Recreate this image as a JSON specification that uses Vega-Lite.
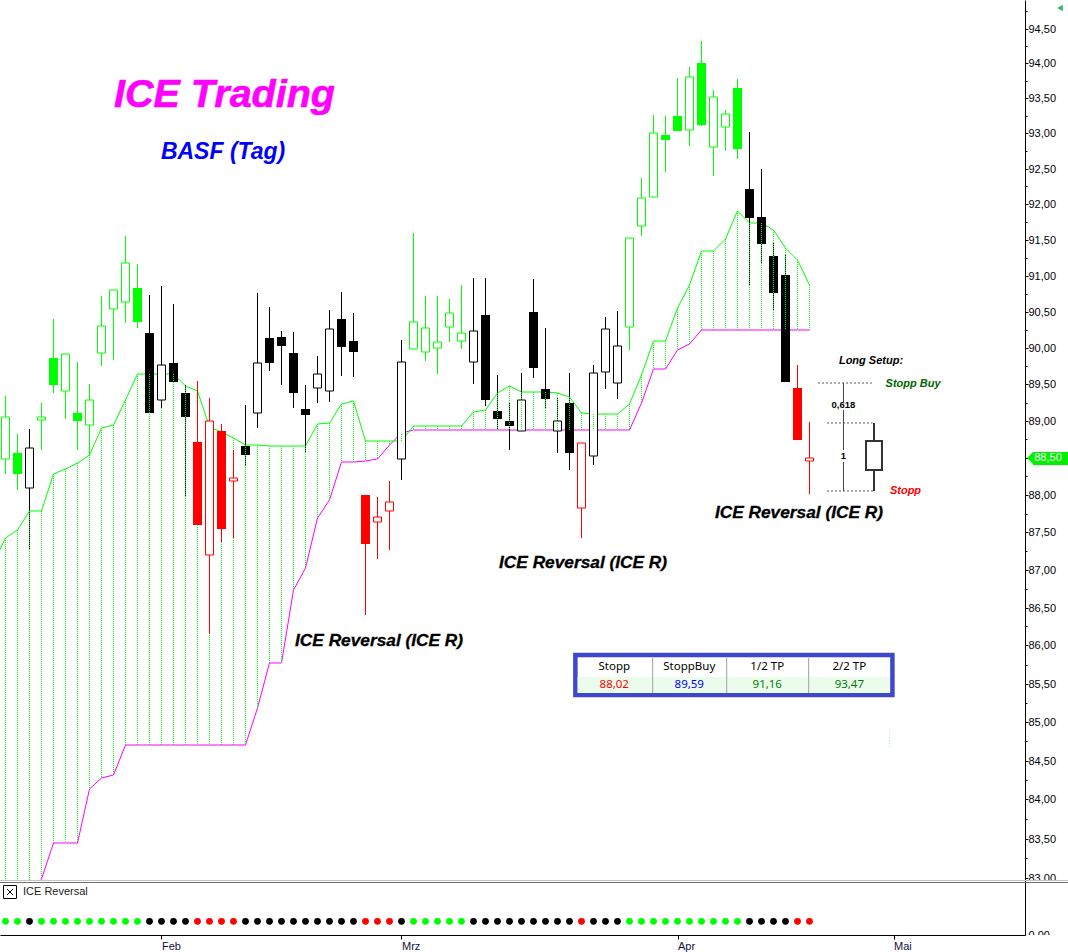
{
"$schema":"https://vega.github.io/schema/vega-lite/v6.json",
"padding":0,
"spacing":0,
"bounds":"flush",
"background":"white",
"config":{"view":{"stroke":null},"concat":{"spacing":0},"axis":{"grid":false,"title":null,"labelFont":"Liberation Sans","labelFontSize":11,"labelColor":"#000000","domainColor":"#000000","tickColor":"#000000"}},
"datasets":{
"candles":[
{"t":0,"open":88.48,"high":89.34,"low":88.28,"close":89.05,"signal":"long"},
{"t":1,"open":88.57,"high":88.83,"low":88.07,"close":88.28,"signal":"long"},
{"t":2,"open":88.10,"high":88.89,"low":87.28,"close":88.63,"signal":"neutral"},
{"t":3,"open":89.01,"high":89.25,"low":88.60,"close":89.05,"signal":"long"},
{"t":4,"open":89.86,"high":90.40,"low":89.38,"close":89.49,"signal":"long"},
{"t":5,"open":89.41,"high":89.91,"low":89.03,"close":89.91,"signal":"long"},
{"t":6,"open":89.11,"high":89.81,"low":88.61,"close":89.00,"signal":"long"},
{"t":7,"open":88.94,"high":89.51,"low":88.54,"close":89.28,"signal":"long"},
{"t":8,"open":89.93,"high":90.72,"low":89.75,"close":90.30,"signal":"long"},
{"t":9,"open":90.54,"high":90.80,"low":89.83,"close":90.80,"signal":"long"},
{"t":10,"open":90.64,"high":91.55,"low":90.34,"close":91.17,"signal":"long"},
{"t":11,"open":90.83,"high":91.16,"low":90.27,"close":90.36,"signal":"long"},
{"t":12,"open":90.21,"high":90.73,"low":89.11,"close":89.11,"signal":"neutral"},
{"t":13,"open":89.29,"high":90.86,"low":89.18,"close":89.76,"signal":"neutral"},
{"t":14,"open":89.79,"high":90.61,"low":89.53,"close":89.53,"signal":"neutral"},
{"t":15,"open":89.38,"high":89.49,"low":87.99,"close":89.06,"signal":"neutral"},
{"t":16,"open":88.72,"high":89.55,"low":87.60,"close":87.60,"signal":"short"},
{"t":17,"open":87.19,"high":89.31,"low":86.15,"close":89.00,"signal":"short"},
{"t":18,"open":88.87,"high":88.96,"low":87.37,"close":87.54,"signal":"short"},
{"t":19,"open":88.19,"high":88.60,"low":87.43,"close":88.23,"signal":"short"},
{"t":20,"open":88.66,"high":89.22,"low":88.41,"close":88.54,"signal":"neutral"},
{"t":21,"open":89.11,"high":90.76,"low":88.91,"close":89.79,"signal":"neutral"},
{"t":22,"open":90.14,"high":90.56,"low":89.68,"close":89.79,"signal":"neutral"},
{"t":23,"open":90.15,"high":90.23,"low":89.49,"close":90.03,"signal":"neutral"},
{"t":24,"open":89.93,"high":90.22,"low":89.18,"close":89.38,"signal":"neutral"},
{"t":25,"open":89.16,"high":89.49,"low":88.58,"close":89.08,"signal":"neutral"},
{"t":26,"open":89.45,"high":89.89,"low":89.24,"close":89.64,"signal":"neutral"},
{"t":27,"open":89.41,"high":90.52,"low":89.26,"close":90.26,"signal":"neutral"},
{"t":28,"open":90.40,"high":90.77,"low":89.62,"close":90.01,"signal":"neutral"},
{"t":29,"open":90.10,"high":90.48,"low":89.60,"close":89.94,"signal":"neutral"},
{"t":30,"open":88.00,"high":88.00,"low":86.40,"close":87.34,"signal":"short"},
{"t":31,"open":87.64,"high":87.97,"low":87.14,"close":87.70,"signal":"short"},
{"t":32,"open":87.79,"high":88.19,"low":87.26,"close":87.90,"signal":"short"},
{"t":33,"open":88.48,"high":90.11,"low":88.20,"close":89.80,"signal":"neutral"},
{"t":34,"open":89.99,"high":91.59,"low":89.99,"close":90.35,"signal":"long"},
{"t":35,"open":89.95,"high":90.72,"low":89.82,"close":90.27,"signal":"long"},
{"t":36,"open":90.00,"high":90.72,"low":89.64,"close":90.08,"signal":"long"},
{"t":37,"open":90.29,"high":90.68,"low":90.08,"close":90.48,"signal":"long"},
{"t":38,"open":90.09,"high":90.87,"low":89.99,"close":90.20,"signal":"long"},
{"t":39,"open":89.80,"high":90.97,"low":89.51,"close":90.23,"signal":"neutral"},
{"t":40,"open":90.45,"high":90.97,"low":89.21,"close":89.29,"signal":"neutral"},
{"t":41,"open":89.14,"high":89.63,"low":88.88,"close":89.03,"signal":"neutral"},
{"t":42,"open":89.00,"high":89.24,"low":88.60,"close":88.93,"signal":"neutral"},
{"t":43,"open":88.86,"high":89.66,"low":88.86,"close":89.28,"signal":"neutral"},
{"t":44,"open":90.50,"high":90.95,"low":89.59,"close":89.72,"signal":"neutral"},
{"t":45,"open":89.44,"high":90.28,"low":89.18,"close":89.30,"signal":"neutral"},
{"t":46,"open":88.86,"high":89.33,"low":88.56,"close":89.00,"signal":"neutral"},
{"t":47,"open":89.25,"high":89.66,"low":88.34,"close":88.57,"signal":"neutral"},
{"t":48,"open":87.83,"high":88.70,"low":87.42,"close":88.70,"signal":"short"},
{"t":49,"open":88.53,"high":89.77,"low":88.41,"close":89.65,"signal":"neutral"},
{"t":50,"open":89.67,"high":90.43,"low":89.44,"close":90.26,"signal":"neutral"},
{"t":51,"open":89.52,"high":90.51,"low":89.30,"close":90.02,"signal":"neutral"},
{"t":52,"open":90.29,"high":91.53,"low":89.97,"close":91.53,"signal":"long"},
{"t":53,"open":91.69,"high":92.37,"low":91.55,"close":92.09,"signal":"long"},
{"t":54,"open":92.10,"high":93.26,"low":92.10,"close":93.00,"signal":"long"},
{"t":55,"open":92.98,"high":93.25,"low":92.45,"close":92.91,"signal":"long"},
{"t":56,"open":93.25,"high":93.79,"low":93.03,"close":93.03,"signal":"long"},
{"t":57,"open":93.04,"high":93.95,"low":92.82,"close":93.81,"signal":"long"},
{"t":58,"open":94.00,"high":94.32,"low":93.10,"close":93.12,"signal":"long"},
{"t":59,"open":92.80,"high":93.62,"low":92.39,"close":93.51,"signal":"long"},
{"t":60,"open":93.09,"high":93.33,"low":92.75,"close":93.27,"signal":"long"},
{"t":61,"open":93.65,"high":93.78,"low":92.64,"close":92.78,"signal":"long"},
{"t":62,"open":92.21,"high":93.02,"low":90.87,"close":91.80,"signal":"neutral"},
{"t":63,"open":91.82,"high":92.49,"low":91.16,"close":91.44,"signal":"neutral"},
{"t":64,"open":91.27,"high":91.47,"low":90.51,"close":90.76,"signal":"neutral"},
{"t":65,"open":91.01,"high":91.29,"low":89.53,"close":89.53,"signal":"neutral"},
{"t":66,"open":89.45,"high":89.77,"low":88.74,"close":88.74,"signal":"short"},
{"t":67,"open":88.46,"high":88.99,"low":88.01,"close":88.50,"signal":"short"}
],
"cloud":[
{"t":-1,"upper":87.09,"lower":82.5},{"t":0,"upper":87.43,"lower":82.6},{"t":1,"upper":87.53,"lower":82.7},{"t":2,"upper":87.79,"lower":82.8},{"t":3,"upper":87.79,"lower":82.99},
{"t":4,"upper":88.28,"lower":83.44},{"t":5,"upper":88.35,"lower":83.44},{"t":6,"upper":88.43,"lower":83.44},{"t":7,"upper":88.54,"lower":84.13},{"t":8,"upper":88.91,"lower":84.28},
{"t":9,"upper":88.95,"lower":84.31},{"t":10,"upper":89.29,"lower":84.70},{"t":11,"upper":89.64,"lower":84.70},{"t":12,"upper":89.64,"lower":84.70},{"t":13,"upper":89.64,"lower":84.70},
{"t":14,"upper":89.64,"lower":84.70},{"t":15,"upper":89.48,"lower":84.70},{"t":16,"upper":89.41,"lower":84.70},{"t":17,"upper":88.92,"lower":84.70},{"t":18,"upper":88.85,"lower":84.70},
{"t":19,"upper":88.77,"lower":84.70},{"t":20,"upper":88.67,"lower":84.70},{"t":21,"upper":88.67,"lower":85.18},{"t":22,"upper":88.66,"lower":85.77},{"t":23,"upper":88.66,"lower":85.77},
{"t":24,"upper":88.66,"lower":86.73},{"t":25,"upper":88.66,"lower":87.03},{"t":26,"upper":88.96,"lower":87.69},{"t":27,"upper":88.97,"lower":87.93},{"t":28,"upper":89.23,"lower":88.44},
{"t":29,"upper":89.27,"lower":88.44},{"t":30,"upper":88.73,"lower":88.46},{"t":31,"upper":88.73,"lower":88.48},{"t":32,"upper":88.73,"lower":88.68},{"t":33,"upper":88.73,"lower":88.84},
{"t":34,"upper":88.93,"lower":88.88},{"t":35,"upper":88.93,"lower":88.88},{"t":36,"upper":88.93,"lower":88.88},{"t":37,"upper":88.93,"lower":88.88},{"t":38,"upper":88.93,"lower":88.88},
{"t":39,"upper":89.12,"lower":88.88},{"t":40,"upper":89.15,"lower":88.88},{"t":41,"upper":89.38,"lower":88.88},{"t":42,"upper":89.48,"lower":88.88},{"t":43,"upper":89.39,"lower":88.88},
{"t":44,"upper":89.39,"lower":88.88},{"t":45,"upper":89.39,"lower":88.88},{"t":46,"upper":89.38,"lower":88.88},{"t":47,"upper":89.33,"lower":88.88},{"t":48,"upper":89.11,"lower":88.88},
{"t":49,"upper":89.09,"lower":88.88},{"t":50,"upper":89.09,"lower":88.88},{"t":51,"upper":89.09,"lower":88.88},{"t":52,"upper":89.23,"lower":88.88},{"t":53,"upper":89.63,"lower":89.25},
{"t":54,"upper":90.09,"lower":89.71},{"t":55,"upper":90.09,"lower":89.71},{"t":56,"upper":90.55,"lower":89.97},{"t":57,"upper":90.87,"lower":90.06},{"t":58,"upper":91.34,"lower":90.24},
{"t":59,"upper":91.34,"lower":90.24},{"t":60,"upper":91.51,"lower":90.24},{"t":61,"upper":91.90,"lower":90.24},{"t":62,"upper":91.74,"lower":90.24},{"t":63,"upper":91.74,"lower":90.24},
{"t":64,"upper":91.63,"lower":90.24},{"t":65,"upper":91.38,"lower":90.24},{"t":66,"upper":91.22,"lower":90.24},{"t":67,"upper":90.87,"lower":90.24}
]
},
"vconcat":[
{
"width":1025,"height":881,
"layer":[
{"data":{"name":"cloud"},"mark":{"type":"rule","color":"#00ff00","strokeWidth":1,"strokeDash":[1,1],"clip":true},
 "encoding":{"x":{"field":"t","type":"quantitative","scale":{"domain":[-0.45833,84.95833],"nice":false,"zero":false,"padding":0},"axis":null},
 "y":{"field":"upper","type":"quantitative","scale":{"type":"log","domain":[82.96,94.913],"nice":false,"zero":false,"round":true,"padding":0},
  "axis":{"orient":"right","title":null,"values":[83,83.25,83.5,83.75,84,84.25,84.5,84.75,85,85.25,85.5,85.75,86,86.25,86.5,86.75,87,87.25,87.5,87.75,88,88.25,88.5,88.75,89,89.25,89.5,89.75,90,90.25,90.5,90.75,91,91.25,91.5,91.75,92,92.25,92.5,92.75,93,93.25,93.5,93.75,94,94.25,94.5,94.75],
  "labelExpr":"(round(datum.value*2)==datum.value*2 && datum.value!=88.5)?replace(format(datum.value,'.2f'),'.',','):''","labelOverlap":false,"labelFlush":false,"labelPadding":0,"tickSize":{"expr":"round(datum.value*2)==datum.value*2?3:2"}}},
 "y2":{"field":"lower"}}},
{"data":{"name":"cloud"},"mark":{"type":"line","color":"#ff00ff","strokeWidth":1,"clip":true},"encoding":{"x":{"field":"t","type":"quantitative"},"y":{"field":"lower","type":"quantitative"}}},
{"data":{"name":"cloud"},"mark":{"type":"line","color":"#00ff00","strokeWidth":1,"clip":true},"encoding":{"x":{"field":"t","type":"quantitative"},"y":{"field":"upper","type":"quantitative"}}},
{"data":{"name":"candles"},"mark":{"type":"rule","strokeWidth":1},"encoding":{"x":{"field":"t","type":"quantitative"},"y":{"field":"high","type":"quantitative"},"y2":{"field":"low"},
 "color":{"field":"signal","type":"nominal","scale":{"domain":["long","neutral","short"],"range":["#00ff00","#000000","#ff0000"]},"legend":null}}},
{"data":{"name":"candles"},"transform":[{"filter":"datum.close>datum.open"}],"mark":{"type":"bar","orient":"vertical","size":8,"fill":"white","strokeWidth":1},"encoding":{"x":{"field":"t","type":"quantitative"},"y":{"field":"open","type":"quantitative"},"y2":{"field":"close"},
 "stroke":{"field":"signal","type":"nominal","scale":{"domain":["long","neutral","short"],"range":["#00ff00","#000000","#ff0000"]},"legend":null}}},
{"data":{"name":"candles"},"transform":[{"filter":"datum.close<datum.open"}],"mark":{"type":"bar","orient":"vertical","size":9},"encoding":{"x":{"field":"t","type":"quantitative"},"y":{"field":"open","type":"quantitative"},"y2":{"field":"close"},
 "fill":{"field":"signal","type":"nominal","scale":{"domain":["long","neutral","short"],"range":["#00ff00","#000000","#ff0000"]},"legend":null}}},
{"data":{"name":"cloud"},"transform":[{"lookup":"t","from":{"data":{"name":"candles"},"key":"t","fields":["signal"]}},{"filter":"datum.signal=='neutral' && datum.t!=13"}],"mark":{"type":"rule","color":"#00ff00","strokeWidth":1,"strokeDash":[1,1],"clip":true},"encoding":{"x":{"field":"t","type":"quantitative"},"y":{"field":"upper","type":"quantitative"},"y2":{"field":"lower"}}},

{"data":{"values":[{"t":73.67,"p1":84.88,"p2":84.66}]},"mark":{"type":"rule","color":"#a8e8c8","strokeWidth":1,"strokeDash":[1,2]},"encoding":{"x":{"field":"t","type":"quantitative"},"y":{"field":"p1","type":"quantitative"},"y2":{"field":"p2"}}},

{"data":{"values":[{"t1":67.71,"t2":72.2,"p":89.52},{"t1":68.46,"t2":72.25,"p":88.97},{"t1":68.46,"t2":72.3,"p":88.05}]},"mark":{"type":"rule","color":"#555555","strokeWidth":1,"strokeDash":[2,2]},"encoding":{"x":{"field":"t1","type":"quantitative"},"x2":{"field":"t2"},"y":{"field":"p","type":"quantitative"}}},
{"data":{"values":[{"t":69.83,"p1":89.52,"p2":89.26},{"t":69.83,"p1":89.15,"p2":88.61},{"t":69.83,"p1":88.45,"p2":88.05}]},"mark":{"type":"rule","color":"#444444","strokeWidth":1},"encoding":{"x":{"field":"t","type":"quantitative"},"y":{"field":"p1","type":"quantitative"},"y2":{"field":"p2"}}},
{"data":{"values":[{"t":72.375,"p1":88.97,"p2":88.05}]},"mark":{"type":"rule","color":"#333333","strokeWidth":2},"encoding":{"x":{"field":"t","type":"quantitative"},"y":{"field":"p1","type":"quantitative"},"y2":{"field":"p2"}}},
{"data":{"values":[{"t1":71.71,"t2":73.04,"p1":88.73,"p2":88.33}]},"mark":{"type":"rect","fill":"white","stroke":"#333333","strokeWidth":2},"encoding":{"x":{"field":"t1","type":"quantitative"},"x2":{"field":"t2"},"y":{"field":"p1","type":"quantitative"},"y2":{"field":"p2"}}},

{"data":{"values":[{"t1":47.49,"t2":73.91,"p1":85.87,"p2":85.35}]},"mark":{"type":"rect","fill":"white","stroke":"#3f48cc","strokeWidth":4.5},"encoding":{"x":{"field":"t1","type":"quantitative"},"x2":{"field":"t2"},"y":{"field":"p1","type":"quantitative"},"y2":{"field":"p2"}}},
{"data":{"values":[{"t1":47.68,"t2":73.71,"p1":85.58,"p2":85.38}]},"mark":{"type":"rect","fill":"#ecfcec"},"encoding":{"x":{"field":"t1","type":"quantitative"},"x2":{"field":"t2"},"y":{"field":"p1","type":"quantitative"},"y2":{"field":"p2"}}},
{"data":{"values":[{"t":53.93,"p1":85.84,"p2":85.38},{"t":60.1,"p1":85.84,"p2":85.38},{"t":66.93,"p1":85.84,"p2":85.38}]},"mark":{"type":"rule","color":"#a0a0a0","strokeWidth":1},"encoding":{"x":{"field":"t","type":"quantitative"},"y":{"field":"p1","type":"quantitative"},"y2":{"field":"p2"}}},
{"data":{"values":[{"t":50.73,"p":85.72,"label":"Stopp"},{"t":56.98,"p":85.72,"label":"StoppBuy"},{"t":63.48,"p":85.72,"label":"1/2 TP"},{"t":70.32,"p":85.72,"label":"2/2 TP"}]},
 "mark":{"type":"text","font":"Noto Sans","fontSize":11.5,"align":"center","baseline":"middle","color":"#000000"},"encoding":{"x":{"field":"t","type":"quantitative"},"y":{"field":"p","type":"quantitative"},"text":{"field":"label"}}},
{"data":{"values":[{"t":50.73,"p":85.48,"label":"88,02"}]},"mark":{"type":"text","font":"Noto Sans","fontSize":11.5,"align":"center","baseline":"middle","color":"#ff0000"},"encoding":{"x":{"field":"t","type":"quantitative"},"y":{"field":"p","type":"quantitative"},"text":{"field":"label"}}},
{"data":{"values":[{"t":56.98,"p":85.48,"label":"89,59"}]},"mark":{"type":"text","font":"Noto Sans","fontSize":11.5,"align":"center","baseline":"middle","color":"#0000ff"},"encoding":{"x":{"field":"t","type":"quantitative"},"y":{"field":"p","type":"quantitative"},"text":{"field":"label"}}},
{"data":{"values":[{"t":63.48,"p":85.48,"label":"91,16"},{"t":70.32,"p":85.48,"label":"93,47"}]},"mark":{"type":"text","font":"Noto Sans","fontSize":11.5,"align":"center","baseline":"middle","color":"#008000"},"encoding":{"x":{"field":"t","type":"quantitative"},"y":{"field":"p","type":"quantitative"},"text":{"field":"label"}}},

{"data":{"values":[{"t":18.25,"p":93.56,"label":"ICE Trading"}]},"mark":{"type":"text","font":"Liberation Sans","fontSize":39.5,"fontWeight":"bold","fontStyle":"italic","color":"#ff00ff","stroke":"#ff00ff","strokeWidth":0.6,"align":"center","baseline":"middle","dy":1},"encoding":{"x":{"field":"t","type":"quantitative"},"y":{"field":"p","type":"quantitative"},"text":{"field":"label"}}},
{"data":{"values":[{"t":18.13,"p":92.75,"label":"BASF (Tag)"}]},"mark":{"type":"text","font":"Liberation Sans","fontSize":23,"fontWeight":"bold","fontStyle":"italic","color":"#0000ff","align":"center","baseline":"middle","dy":1},"encoding":{"x":{"field":"t","type":"quantitative"},"y":{"field":"p","type":"quantitative"},"text":{"field":"label"}}},
{"data":{"values":[{"t":31.13,"p":86.07,"label":"ICE Reversal (ICE R)"},{"t":48.13,"p":87.10,"label":"ICE Reversal (ICE R)"},{"t":66.12,"p":87.77,"label":"ICE Reversal (ICE R)"}]},"mark":{"type":"text","font":"Liberation Sans","fontSize":17.3,"fontWeight":"bold","fontStyle":"italic","color":"#000000","stroke":"#000000","strokeWidth":0.3,"align":"center","baseline":"middle","dy":1},"encoding":{"x":{"field":"t","type":"quantitative"},"y":{"field":"p","type":"quantitative"},"text":{"field":"label"}}},
{"data":{"values":[{"t":72.125,"p":89.82,"label":"Long Setup:"}]},"mark":{"type":"text","font":"Liberation Sans","fontSize":11,"fontWeight":"bold","fontStyle":"italic","align":"center","baseline":"middle","color":"#000000"},"encoding":{"x":{"field":"t","type":"quantitative"},"y":{"field":"p","type":"quantitative"},"text":{"field":"label"}}},
{"data":{"values":[{"t":75.63,"p":89.50,"label":"Stopp Buy"}]},"mark":{"type":"text","font":"Liberation Sans","fontSize":11,"fontWeight":"bold","fontStyle":"italic","align":"center","baseline":"middle","color":"#006400"},"encoding":{"x":{"field":"t","type":"quantitative"},"y":{"field":"p","type":"quantitative"},"text":{"field":"label"}}},
{"data":{"values":[{"t":75.0,"p":88.05,"label":"Stopp"}]},"mark":{"type":"text","font":"Liberation Sans","fontSize":11,"fontWeight":"bold","fontStyle":"italic","align":"center","baseline":"middle","color":"#ff0000"},"encoding":{"x":{"field":"t","type":"quantitative"},"y":{"field":"p","type":"quantitative"},"text":{"field":"label"}}},
{"data":{"values":[{"t":69.83,"p":89.22,"label":"0,618"},{"t":69.83,"p":88.53,"label":"1"}]},"mark":{"type":"text","font":"Liberation Sans","fontSize":9.5,"fontWeight":"bold","color":"#000000","align":"center","baseline":"middle"},"encoding":{"x":{"field":"t","type":"quantitative"},"y":{"field":"p","type":"quantitative"},"text":{"field":"label"}}},

{"data":{"values":[{"t1":85.625,"t2":88.54,"p1":88.58,"p2":88.41}]},"mark":{"type":"rect","fill":"#00f000"},"encoding":{"x":{"field":"t1","type":"quantitative"},"x2":{"field":"t2"},"y":{"field":"p1","type":"quantitative"},"y2":{"field":"p2"}}},
{"data":{"values":[{"t":85.375,"p":88.495}]},"mark":{"type":"point","shape":"M-0.5,0L0.5,-1L0.5,1Z","size":144,"filled":true,"opacity":1,"color":"#00f000"},"encoding":{"x":{"field":"t","type":"quantitative"},"y":{"field":"p","type":"quantitative"}}},
{"data":{"values":[{"t":86.875,"p":88.495,"label":"88,50"}]},"mark":{"type":"text","font":"Liberation Sans","fontSize":11,"color":"#ffffff","align":"center","baseline":"middle"},"encoding":{"x":{"field":"t","type":"quantitative"},"y":{"field":"p","type":"quantitative"},"text":{"field":"label"}}},
{"data":{"values":[{"t":87.875,"p":94.80}]},"mark":{"type":"point","shape":"triangle-left","size":45,"filled":true,"opacity":1,"color":"#3cb371"},"encoding":{"x":{"field":"t","type":"quantitative"},"y":{"field":"p","type":"quantitative"}}}
]
},
{
"width":1025,"height":54,
"layer":[
{"data":{"values":[{"t1":85.04,"t2":88.54,"v1":1,"v2":0.8},{"t1":85.04,"t2":88.54,"v1":0,"v2":-0.32}]},"mark":{"type":"rect","fill":"white"},
 "encoding":{"x":{"field":"t1","type":"quantitative","scale":{"domain":[-0.45833,84.95833],"nice":false,"zero":false,"padding":0},
  "axis":{"orient":"bottom","values":[13,33,56,74],"labelExpr":"datum.value==13?'Feb':datum.value==33?'Mrz':datum.value==56?'Apr':'Mai'","labelAlign":"left","labelPadding":1,"tickSize":4,"labelFlush":false,"labelOverlap":false,"labelColor":"#101040","labelFont":"Liberation Sans"}},
 "x2":{"field":"t2"},
 "y":{"field":"v1","type":"quantitative","scale":{"domain":[0,1],"nice":false,"zero":false},"axis":{"orient":"right","values":[0],"labelExpr":"'0,00'","tickSize":3,"labelPadding":0,"labelFlush":false,"labelOverlap":false}},
 "y2":{"field":"v2"}}},
{"data":{"values":[{"t1":-0.45833,"t2":88.54,"v1":1.0185,"v2":1.0}]},"mark":{"type":"rect","fill":"#c4c4c4"},"encoding":{"x":{"field":"t1","type":"quantitative"},"x2":{"field":"t2"},"y":{"field":"v1","type":"quantitative"},"y2":{"field":"v2"}}},
{"data":{"values":[{"t1":-0.45833,"t2":88.54,"v1":0.9815,"v2":0.963}]},"mark":{"type":"rect","fill":"#707070"},"encoding":{"x":{"field":"t1","type":"quantitative"},"x2":{"field":"t2"},"y":{"field":"v1","type":"quantitative"},"y2":{"field":"v2"}}},
{"data":{"name":"candles"},"mark":{"type":"point","shape":"circle","filled":true,"opacity":1,"size":46},"encoding":{"x":{"field":"t","type":"quantitative"},"y":{"datum":0.254,"type":"quantitative"},
 "fill":{"field":"signal","type":"nominal","scale":{"domain":["long","neutral","short"],"range":["#00ff00","#000000","#ff0000"]},"legend":null}}},
{"data":{"values":[{"t":0.375,"v":0.796}]},"mark":{"type":"point","shape":"square","filled":false,"size":169,"opacity":1,"color":"#000000","strokeWidth":1},"encoding":{"x":{"field":"t","type":"quantitative"},"y":{"field":"v","type":"quantitative"}}},
{"data":{"values":[{"t":0.375,"v":0.796}]},"mark":{"type":"point","shape":"M-1,-1L1,1M1,-1L-1,1","filled":false,"size":36,"opacity":1,"color":"#000000","strokeWidth":1},"encoding":{"x":{"field":"t","type":"quantitative"},"y":{"field":"v","type":"quantitative"}}},
{"data":{"values":[{"t":1.458,"v":0.796,"label":"ICE Reversal"}]},"mark":{"type":"text","font":"Liberation Sans","fontSize":11,"color":"#222222","align":"left","baseline":"middle"},"encoding":{"x":{"field":"t","type":"quantitative"},"y":{"field":"v","type":"quantitative"},"text":{"field":"label"}}}
]
}
]
}
